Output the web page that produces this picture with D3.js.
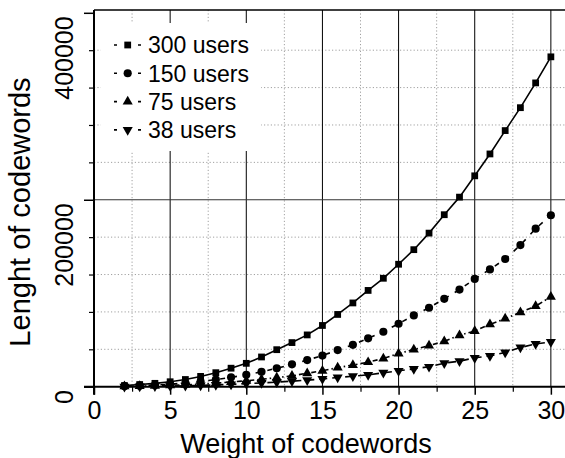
<!DOCTYPE html>
<html><head><meta charset="utf-8">
<script src="https://cdn.jsdelivr.net/npm/d3@7"></script>
<style>
body{margin:0;background:#fff}
svg{display:block}
text{font-family:"Liberation Sans",Arial,sans-serif;fill:#000}
</style>
</head><body>
<svg id="c" width="565" height="458"></svg>
<script>
// ---- data ----
const weights = [2,3,4,5,6,7,8,9,10,11,12,13,14,15,16,17,18,19,20,21,22,23,24,25,26,27,28,29,30];
const users300 = [1200,2300,3600,5300,7700,11000,15000,19800,25000,31800,39600,47200,55400,65500,77300,89600,103000,116000,131000,146600,164300,184000,202800,225600,249000,274000,298500,325000,352900];
const users150 = [600,1100,1800,2700,3900,5500,7600,10000,12700,16000,19700,23900,28500,33300,39200,44800,51700,58800,67400,76300,84500,94000,103900,115300,125500,136600,151500,169100,183400];
const users75  = [300,550,900,1400,2000,2800,3800,5000,6300,7900,9700,11600,14400,17000,20400,23200,26200,30200,35500,39800,44000,48600,55000,59600,66700,72800,79500,86200,96200];
const users38  = [150,280,450,700,1000,1400,1900,2500,3200,4000,4900,5900,7000,8300,9900,11200,12700,14900,17000,19100,21300,25200,27300,30900,33000,36600,41900,45700,47900];
const seriesNames = ["300 users","150 users","75 users","38 users"];
const xTicks = [0,5,10,15,20,25,30];
const yTicks = [0,200000,400000];
const xLabel = "Weight of codewords";
const yLabel = "Lenght of codewords";

// ---- setup ----
const svg = d3.select("#c");
const x = d3.scaleLinear().domain([0,31]).range([94,566.1]);
const y = d3.scaleLinear().domain([0,403000]).range([386.7,10]);
const X0 = x(0), X1 = x(31), Y0 = y(0), Y1 = y(403000);

const xMinor = d3.range(0,31,2.5).filter(v => v % 5 !== 0);
const yMinor = d3.range(0,403000,40000).filter(v => v % 200000 !== 0);

// dotted minor grid
const g = svg.append("g");
g.selectAll(".vmin").data(xMinor).join("line")
  .attr("x1",d=>x(d)).attr("x2",d=>x(d)).attr("y1",Y1).attr("y2",Y0)
  .attr("stroke","#a0a0a0").attr("stroke-width",1).attr("stroke-dasharray","1.2,2.2");
g.selectAll(".hmin").data(yMinor).join("line")
  .attr("x1",X0).attr("x2",X1).attr("y1",d=>y(d)).attr("y2",d=>y(d))
  .attr("stroke","#a0a0a0").attr("stroke-width",1).attr("stroke-dasharray","1.2,2.2");
// solid major grid
g.selectAll(".vmaj").data(xTicks.filter(d=>d>0)).join("line")
  .attr("x1",d=>x(d)).attr("x2",d=>x(d)).attr("y1",Y1).attr("y2",Y0)
  .attr("stroke","#000").attr("stroke-width",1);
g.selectAll(".hmaj").data(yTicks.filter(d=>d>0 && d<400000)).join("line")
  .attr("x1",X0).attr("x2",X1).attr("y1",d=>y(d)).attr("y2",d=>y(d))
  .attr("stroke","#333").attr("stroke-width",1);

// ---- series ----
const data = [users300, users150, users75, users38];
const dashes = [null, "5,7", "5,3,1.5,3", "8,5"];
const symTypes = [d3.symbolSquare, d3.symbolCircle, d3.symbolTriangle, d3.symbolTriangle];
const symSizes = [46, 52, 44, 44];
const symRot = [0,0,0,180];
const line = d3.line().x((d,i)=>x(weights[i])).y(d=>y(d));

data.forEach((vals,k)=>{
  svg.append("path").datum(vals).attr("d",line)
    .attr("fill","none").attr("stroke","#000").attr("stroke-width",1.6)
    .attr("stroke-dasharray",dashes[k]);
});
data.forEach((vals,k)=>{
  const sym = d3.symbol().type(symTypes[k]).size(symSizes[k]);
  svg.append("g").selectAll("path").data(vals).join("path")
    .attr("d",sym)
    .attr("transform",(d,i)=>`translate(${x(weights[i])},${y(d)}) rotate(${symRot[k]})`)
    .attr("fill","#000");
});

// ---- axes ----
const xAxis = svg.append("g").attr("transform",`translate(0,${Y0})`)
  .call(d3.axisBottom(x).tickValues(xTicks).tickSize(8).tickPadding(7).tickFormat(d3.format("d")));
xAxis.select(".domain").remove();
xAxis.selectAll("line").attr("stroke","#000").attr("stroke-width",1.5);
xAxis.selectAll("text").attr("font-size",25).attr("font-family","Liberation Sans, Arial, sans-serif").attr("fill","#000");
const xAxisMin = svg.append("g").attr("transform",`translate(0,${Y0})`)
  .call(d3.axisBottom(x).tickValues(xMinor).tickSize(5).tickFormat(""));
xAxisMin.select(".domain").remove();
xAxisMin.selectAll("line").attr("stroke","#000").attr("stroke-width",1.2);

const yAxis = svg.append("g").attr("transform",`translate(${X0},0)`)
  .call(d3.axisLeft(y).tickValues(yTicks).tickSize(10).tickFormat(d3.format("d")));
yAxis.select(".domain").remove();
yAxis.selectAll("line").attr("stroke","#000").attr("stroke-width",1.5);
yAxis.selectAll("text")
  .attr("x",null).attr("dy",null)
  .attr("transform","translate(-21,3) rotate(-90)")
  .attr("text-anchor","end")
  .attr("font-size",25).attr("font-family","Liberation Sans, Arial, sans-serif").attr("fill","#000");
const yAxisMin = svg.append("g").attr("transform",`translate(${X0},0)`)
  .call(d3.axisLeft(y).tickValues(yMinor).tickSize(5).tickFormat(""));
yAxisMin.select(".domain").remove();
yAxisMin.selectAll("line").attr("stroke","#000").attr("stroke-width",1.2);

// frame lines
svg.append("line").attr("x1",X0-10).attr("x2",X1).attr("y1",Y0).attr("y2",Y0).attr("stroke","#000").attr("stroke-width",2);
svg.append("line").attr("x1",X0).attr("x2",X0).attr("y1",Y1).attr("y2",Y0+8).attr("stroke","#000").attr("stroke-width",2);
svg.append("line").attr("x1",X0).attr("x2",X1).attr("y1",Y1).attr("y2",Y1).attr("stroke","#000").attr("stroke-width",1.5);

// axis titles
svg.append("text").attr("x",306).attr("y",453).attr("text-anchor","middle")
  .attr("font-size",27).text(xLabel);
svg.append("text").attr("transform","translate(30,212) rotate(-90)").attr("text-anchor","middle")
  .attr("font-size",29).text(yLabel);

// ---- legend ----
const lg = svg.append("g");
lg.append("rect").attr("x",101).attr("y",23).attr("width",160).attr("height",128).attr("fill","#fff");
seriesNames.forEach((name,k)=>{
  const cy = 45 + k*28.3;
  lg.append("line").attr("x1",114).attr("x2",141).attr("y1",cy).attr("y2",cy)
    .attr("stroke","#000").attr("stroke-width",1.6).attr("stroke-dasharray","3,21,3");
  lg.append("path").attr("d",d3.symbol().type(symTypes[k]).size(symSizes[k]))
    .attr("transform",`translate(127.7,${cy}) rotate(${symRot[k]})`).attr("fill","#000");
  lg.append("text").attr("x",148).attr("y",cy+8.2).attr("font-size",23).text(name);
});
</script>
</body></html>
